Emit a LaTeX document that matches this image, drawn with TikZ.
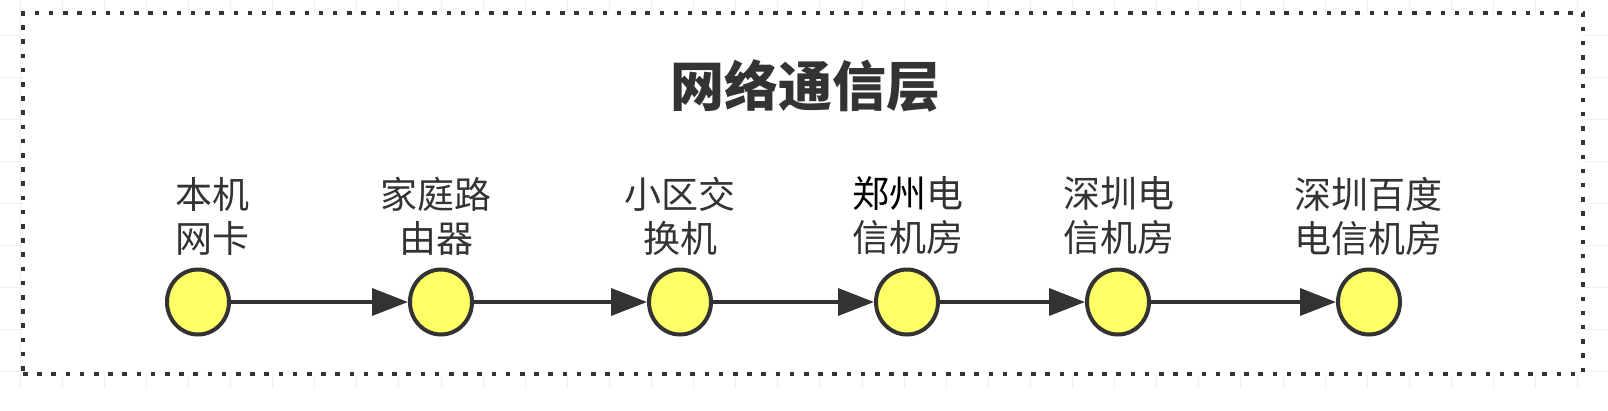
\documentclass[tikz,border=0pt]{standalone}
\usepackage{fontspec}
\newfontfamily\cjk{Noto Sans CJK SC}
\usetikzlibrary{arrows.meta,shapes.geometric}
\definecolor{dk}{HTML}{333333}
\definecolor{yl}{HTML}{FFFF66}
\definecolor{gridc}{HTML}{EFEFEF}
\begin{document}
\begin{tikzpicture}[x=1pt,y=-1pt,
  dot/.style={ellipse, draw=dk, fill=yl, line width=4pt, minimum width=62pt, minimum height=65pt, inner sep=0pt},
  lbl/.style={font=\cjk\fontsize{37}{44}\selectfont, text=dk, align=center, inner sep=0pt},
  arr/.style={draw=dk, line width=3.6pt, -{Triangle[length=36pt,width=27pt]}},
  framebox/.style={draw=dk, fill=white, line width=4.5pt, dash pattern=on 4.5pt off 9.7pt, minimum width=1560pt, minimum height=361pt, inner sep=0pt},
  gridline/.style={draw=gridc, line width=1pt},
  titlestyle/.style={font=\cjk\bfseries\fontsize{54}{60}\selectfont, text=dk, inner sep=0pt}
]
\useasboundingbox (0,0) rectangle (1608,410);
\fill[white] (0,0) rectangle (1608,410);
% background grid
\foreach \i in {0,...,37} \draw[gridline] ({20+42.1*\i},0) -- ({20+42.1*\i},388);
\foreach \j in {0,...,8} \draw[gridline] (0,{35+42.1*\j}) -- (1608,{35+42.1*\j});
% frame
\node[framebox] (frame) at (803,193.5) {};
% title
\node[titlestyle] (title) at (805,86) {网络通信层};
% nodes
\node[dot] (n1) at (198,302) {};
\node[dot] (n2) at (441,302) {};
\node[dot] (n3) at (680,302) {};
\node[dot] (n4) at (907,302) {};
\node[dot] (n5) at (1118,302) {};
\node[dot] (n6) at (1369,302) {};
% labels
\node[lbl] (l1) at (212,216) {本机\\网卡};
\node[lbl] (l2) at (436,216) {家庭路\\由器};
\node[lbl] (l3) at (680,216) {小区交\\换机};
\node[lbl] (l4) at (908,216) {{\color{black}郑州}电\\信机房};
\node[lbl] (l5) at (1119,216) {深圳电\\信机房};
\node[lbl] (l6) at (1368,216) {深圳百度\\电信机房};
% connectors
\draw[arr] (n1) -- (n2);
\draw[arr] (n2) -- (n3);
\draw[arr] (n3) -- (n4);
\draw[arr] (n4) -- (n5);
\draw[arr] (n5) -- (n6);
\end{tikzpicture}
\end{document}
